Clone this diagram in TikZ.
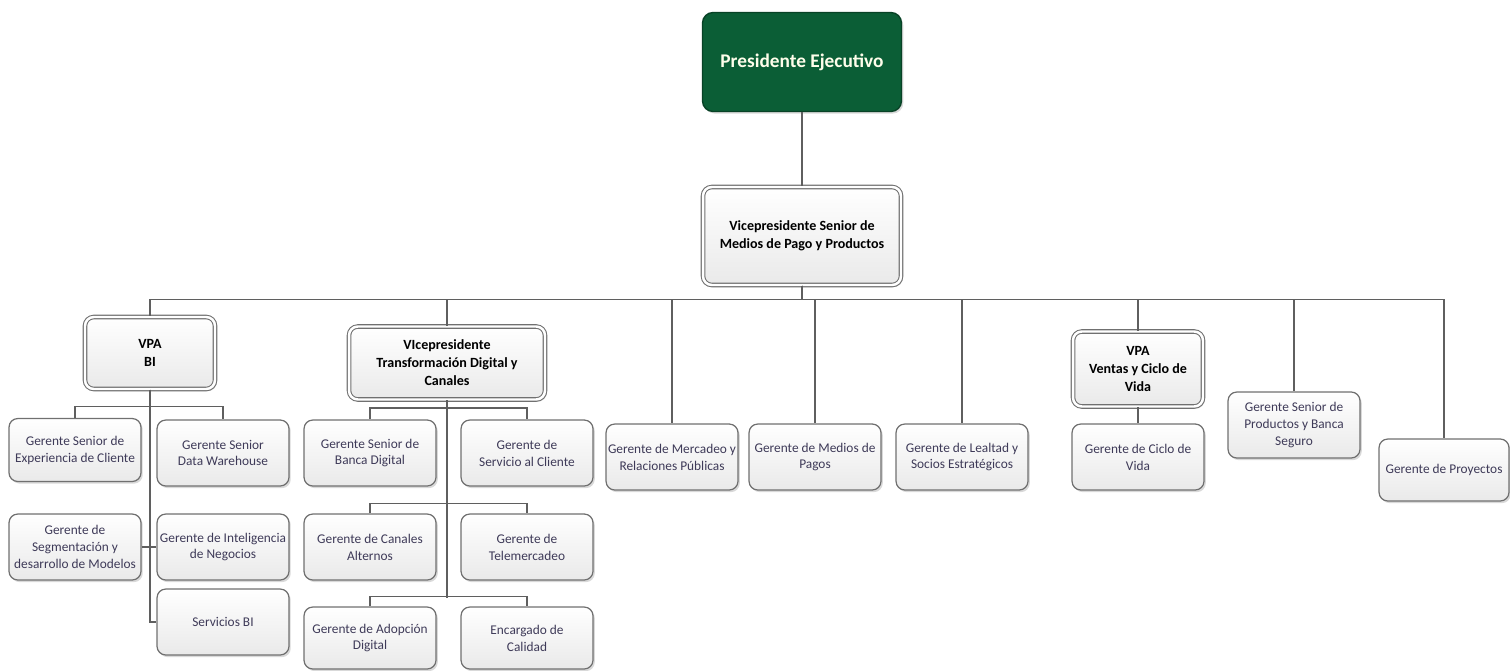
\documentclass[tikz,border=0pt]{standalone}
\usepackage{fontspec}
\setmainfont{Carlito}
\usepackage{tikz}
\usetikzlibrary{shadows}
\definecolor{presgreen}{RGB}{11,94,54}
\definecolor{linegray}{RGB}{112,112,112}
\definecolor{mgrtext}{RGB}{62,58,88}

\begin{document}
\begin{tikzpicture}[x=0.02cm, y=-0.02cm,
  box/.style={rounded corners=5pt, align=center, draw=linegray, line width=0.7pt, inner xsep=1pt, top color=white, bottom color=gray!17, drop shadow={opacity=0.3, shadow xshift=1pt, shadow yshift=-1.2pt}},
  mgr/.style={box, minimum width=2.64cm, minimum height=1.32cm, text=mgrtext, font=\fontsize{7.6}{9.6}\selectfont},
  vpbox/.style={box, double=white, double distance=1.4pt, line width=0.6pt, font=\bfseries\fontsize{8}{10.2}\selectfont},
  conn/.style={draw=linegray!85!black, line width=0.8pt}]
  \useasboundingbox (0,0) rectangle (1510,670);
  \node (pres) [rounded corners=6pt, draw=presgreen!70!black, line width=0.8pt, fill=presgreen, text=white!92!yellow, font=\bfseries\fontsize{11}{13}\selectfont, minimum width=3.98cm, minimum height=1.98cm, drop shadow={opacity=0.3, shadow xshift=1pt, shadow yshift=-1.2pt}] at (802,62) {Presidente Ejecutivo};
  \node (vps) [vpbox, minimum width=3.96cm, minimum height=1.96cm] at (802,236) {Vicepresidente Senior de\\Medios de Pago y Productos};
  % vicepresidencias y gerencias
  \node (bi) [vpbox, minimum width=2.6cm, minimum height=1.44cm] at (150,353) {VPA\\BI};
  \node (vptd) [vpbox, minimum width=3.92cm, minimum height=1.46cm] at (447,363) {VIcepresidente\\Transformación Digital y\\Canales};
  \node (merc) [mgr] at (672,457) {Gerente de Mercadeo y\\Relaciones Públicas};
  \node (medios) [mgr] at (815,457) {Gerente de Medios de\\Pagos};
  \node (lealtad) [mgr] at (962,457) {Gerente de Lealtad y\\Socios Estratégicos};
  \node (vpav) [vpbox, minimum width=2.6cm, minimum height=1.5cm] at (1138,369) {VPA\\Ventas y Ciclo de\\Vida};
  \node (ciclo) [mgr] at (1138,457) {Gerente de Ciclo de\\Vida};
  \node (prod) [mgr] at (1294,425) {Gerente Senior de\\Productos y Banca\\Seguro};
  \node (proy) [mgr, minimum width=2.6cm, minimum height=1.24cm] at (1444,470) {Gerente de Proyectos};
  % BI
  \node (exp) [mgr, minimum height=1.26cm] at (75,450) {Gerente Senior de\\Experiencia de Cliente};
  \node (dw) [mgr] at (223,453) {Gerente Senior\\Data Warehouse};
  \node (seg) [mgr] at (75,547) {Gerente de\\Segmentación y\\desarrollo de Modelos};
  \node (intel) [mgr] at (223,547) {Gerente de Inteligencia\\de Negocios};
  \node (servbi) [mgr] at (223,622) {Servicios BI};
  % transformacion digital
  \node (banca) [mgr] at (370,453) {Gerente Senior de\\Banca Digital};
  \node (servcli) [mgr] at (527,453) {Gerente de\\Servicio al Cliente};
  \node (canales) [mgr] at (370,547) {Gerente de Canales\\Alternos};
  \node (tele) [mgr] at (527,547) {Gerente de\\Telemercadeo};
  \node (adop) [mgr, minimum height=1.24cm] at (370,638) {Gerente de Adopción\\Digital};
  \node (calidad) [mgr, minimum height=1.24cm] at (527,638) {Encargado de\\Calidad};
  \coordinate (tdend) at (447,598);

  \draw[conn] (pres) -- (vps);
  \foreach \c in {bi,vptd,merc,medios,lealtad,vpav,prod,proy}
    \draw[conn] (vps.south) -- ++(0,14) -| (\c.north);
  \foreach \c in {exp,dw}
    \draw[conn] (bi.south) -- ++(0,17) -| (\c.north);
  \draw[conn] (bi.south) |- (servbi.west);
  \draw[conn] (seg.east) -- (intel.west);
  \foreach \c in {banca,servcli}
    \draw[conn] (vptd.south) -- ++(0,8) -| (\c.north);
  \draw[conn] (vptd.south) -- (tdend);
  \draw[conn] (canales.north) -- ++(0,-10) -| (tele.north);
  \draw[conn] (adop.north) -- ++(0,-10) -| (calidad.north);
  \draw[conn] (vpav) -- (ciclo);
\end{tikzpicture}
\end{document}
